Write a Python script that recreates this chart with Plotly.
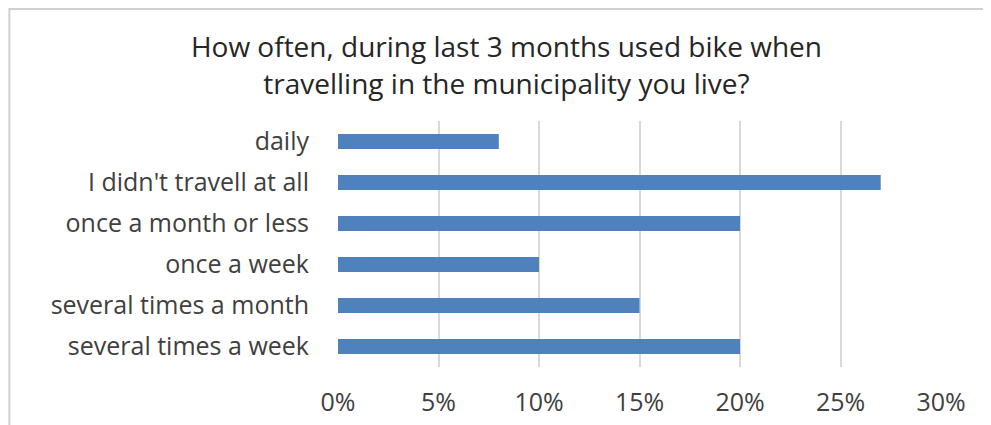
import plotly.graph_objects as go

categories = ["daily", "I didn't travell at all", "once a month or less",
              "once a week", "several times a month", "several times a week"]
shares = [0.08, 0.27, 0.20, 0.10, 0.15, 0.20]
tick_vals = [0, 0.05, 0.10, 0.15, 0.20, 0.25, 0.30]
tick_text = ["0%", "5%", "10%", "15%", "20%", "25%", "30%"]

title_text = ("How often, during last 3 months used bike when<br>"
              "travelling in the municipality you live?")

FONT = "Open Sans"
TXT = "#404040"

fig = go.Figure()
fig.add_trace(go.Bar(
    x=shares, y=categories, orientation="h",
    marker=dict(color="#4F81BD", line=dict(width=0)),
    hoverinfo="x+y",
))

# page body has an 8px margin, so margins are shifted by that much
fig.update_layout(
    width=991, height=425,
    margin=dict(l=330, r=58, t=113, b=66),
    paper_bgcolor="white", plot_bgcolor="white",
    bargap=0.63,
    showlegend=False,
    font=dict(family=FONT, color=TXT),
    title=dict(text=title_text, x=0.503, xanchor="center",
               y=0.884, yanchor="middle",
               font=dict(family=FONT, size=28, color="#262626")),
    xaxis=dict(range=[0, 0.30], tickvals=tick_vals, ticktext=tick_text,
               showgrid=True, gridcolor="#d9d9d9", gridwidth=2,
               zeroline=False, showline=False, ticks="",
               tickfont=dict(size=25, color=TXT), ticklabelstandoff=18),
    yaxis=dict(categoryorder="array", categoryarray=categories,
               autorange="reversed", showgrid=False, zeroline=False,
               showline=False, ticks="",
               tickfont=dict(size=25, color=TXT), ticklabelstandoff=28),
)

# outer chart-area border, running off the right and bottom edges
fig.add_shape(type="rect", xref="paper", yref="paper",
              x0=-0.545, x1=1.3, y0=-0.4, y1=1.455,
              line=dict(color="#d0d0d0", width=2), layer="below")

fig.write_html("out.html")
